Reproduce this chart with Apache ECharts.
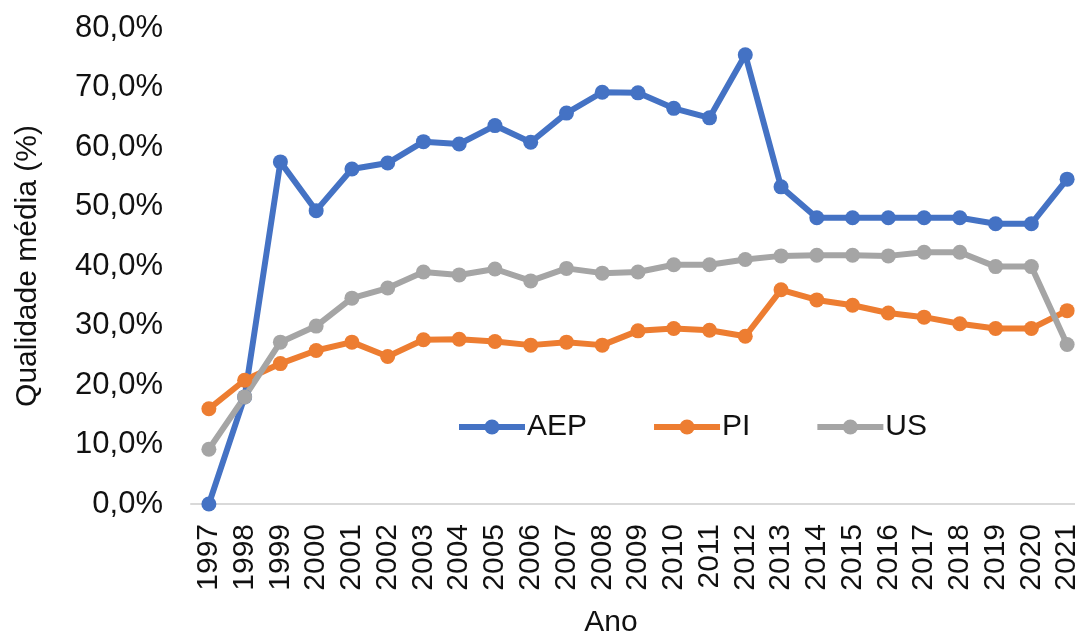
<!DOCTYPE html>
<html>
<head>
<meta charset="utf-8">
<script src="https://cdn.jsdelivr.net/npm/echarts@6/dist/echarts.min.js"></script>
<style>
  html, body { margin: 0; padding: 0; background: #fff; }
  #chart { width: 1075px; height: 635px; }
</style>
</head>
<body>
<div id="chart"></div>
<script>
// Average quality per year (%), by group
const years = ['1997','1998','1999','2000','2001','2002','2003','2004','2005','2006','2007','2008',
               '2009','2010','2011','2012','2013','2014','2015','2016','2017','2018','2019','2020','2021'];
const aep = [0.0, 18.0, 57.5, 49.3, 56.3, 57.3, 60.9, 60.5, 63.6, 60.8, 65.7, 69.2,
             69.1, 66.5, 64.9, 75.5, 53.3, 48.1, 48.1, 48.1, 48.1, 48.1, 47.1, 47.1, 54.6];
const pi  = [16.0, 20.8, 23.6, 25.8, 27.2, 24.8, 27.6, 27.7, 27.3, 26.7, 27.2, 26.7,
             29.1, 29.5, 29.2, 28.2, 36.0, 34.3, 33.4, 32.1, 31.4, 30.3, 29.5, 29.5, 32.5];
const us  = [9.2, 18.0, 27.2, 29.9, 34.6, 36.3, 39.0, 38.5, 39.5, 37.5, 39.6, 38.8,
             39.0, 40.2, 40.2, 41.1, 41.7, 41.8, 41.8, 41.7, 42.3, 42.3, 39.9, 39.9, 26.8];
const seriesNames = ['AEP', 'PI', 'US'];
const seriesColors = ['#4472C4', '#ED7D31', '#A5A5A5'];

const FONT = 'Liberation Sans, Arial, sans-serif';
const TEXT = '#111';

function lineSeries(name, data, color) {
  return {
    name: name,
    type: 'line',
    data: data,
    symbol: 'circle',
    symbolSize: 15,
    lineStyle: { width: 6, color: color },
    itemStyle: { color: color },
    emphasis: { disabled: true },
    z: 2
  };
}

const chart = echarts.init(document.getElementById('chart'), null, { renderer: 'canvas' });
chart.setOption({
  animation: false,
  backgroundColor: '#fff',
  grid: {
    left: 191, right: -10, top: 28, bottom: 131,
    containLabel: false,
    outerBoundsMode: 'none'
  },
  legend: {
    left: 451,
    top: 407,
    itemWidth: 66,
    itemHeight: 19,
    itemGap: 64,
    lineStyle: { width: 6 },
    textStyle: { fontFamily: FONT, fontSize: 30, color: TEXT, padding: [0, 0, 0, -3] },
    data: seriesNames
  },
  xAxis: {
    type: 'category',
    data: years,
    boundaryGap: true,
    name: 'Ano',
    nameLocation: 'middle',
    nameGap: 104,
    nameTextStyle: { fontFamily: FONT, fontSize: 30, color: TEXT, padding: [0, 54, 0, 0] },
    axisLine: { lineStyle: { color: '#d9d9d9', width: 2 } },
    axisTick: { show: false },
    axisLabel: { rotate: 90, margin: 20, interval: 0, fontFamily: FONT, fontSize: 30, color: TEXT }
  },
  yAxis: {
    type: 'value',
    min: 0,
    max: 80,
    interval: 10,
    name: 'Qualidade média (%)',
    nameLocation: 'middle',
    nameGap: 148,
    nameRotate: 90,
    nameTextStyle: { fontFamily: FONT, fontSize: 30, color: TEXT },
    axisLine: { show: false },
    axisTick: { show: false },
    splitLine: { show: false },
    axisLabel: {
      margin: 28,
      fontFamily: FONT,
      fontSize: 31,
      color: TEXT,
      formatter: v => v.toFixed(1).replace('.', ',') + '%'
    }
  },
  series: [
    lineSeries(seriesNames[0], aep, seriesColors[0]),
    lineSeries(seriesNames[1], pi, seriesColors[1]),
    lineSeries(seriesNames[2], us, seriesColors[2])
  ]
});
</script>
</body>
</html>
